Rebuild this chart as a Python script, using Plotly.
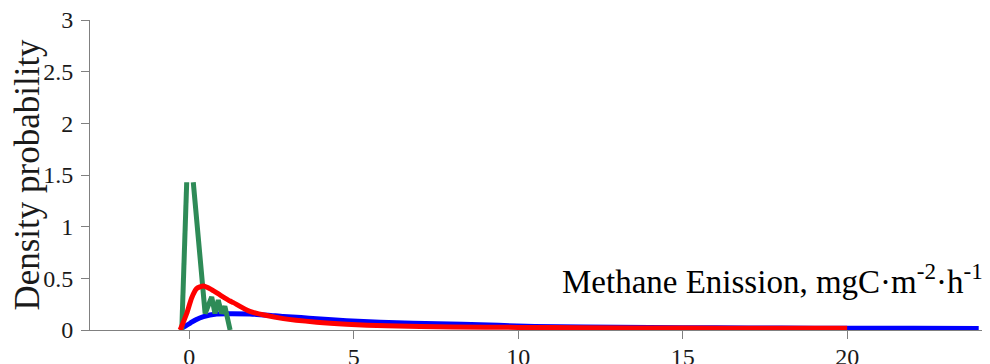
import plotly.graph_objects as go

# Blue series
blue_x = [-0.28, 0.02, 0.2, 0.43, 0.83, 1.3, 1.84, 2.4, 2.86, 3.4, 3.87, 4.78, 5.8, 6.8, 8.3, 9.4, 10.5, 12, 14, 16, 18, 20, 22, 24]
blue_y = [0.01, 0.065, 0.10, 0.13, 0.155, 0.157, 0.155, 0.143, 0.13, 0.12, 0.11, 0.09, 0.075, 0.065, 0.055, 0.045, 0.035, 0.028, 0.024, 0.021, 0.019, 0.017, 0.016, 0.015]

# Green series
green_x = [-0.23, -0.08, None, 0.12, 0.48, 0.68, 0.78, 0.88, 0.98, 1.08, 1.24]
green_y = [0.0, 1.43, None, 1.43, 0.16, 0.32, 0.16, 0.29, 0.16, 0.23, 0.0]

# Red series
red_x = [-0.28, -0.08, 0.07, 0.22, 0.43, 0.68, 0.93, 1.24, 1.34, 1.84, 2.86, 3.87, 4.78, 6, 8, 10, 12, 15, 18, 20]
red_y = [0.0, 0.16, 0.31, 0.40, 0.426, 0.39, 0.34, 0.28, 0.265, 0.18, 0.11, 0.075, 0.055, 0.04, 0.03, 0.025, 0.022, 0.019, 0.017, 0.016]

x_ticks = [0, 5, 10, 15, 20]
y_ticks = [0, 0.5, 1, 1.5, 2, 2.5, 3]
y_tick_labels = ["0", "0.5", "1", "1.5", "2", "2.5", "3"]

FONT = "Liberation Serif"

fig = go.Figure()
fig.add_trace(go.Scatter(x=blue_x, y=blue_y, mode="lines", line=dict(color="#0000FF", width=5, shape="spline", smoothing=0.6), showlegend=False))
fig.add_trace(go.Scatter(x=green_x, y=green_y, mode="lines", line=dict(color="#2E8B57", width=5), connectgaps=False, showlegend=False))
fig.add_trace(go.Scatter(x=red_x, y=red_y, mode="lines", line=dict(color="#FF0000", width=5, shape="spline", smoothing=0.6), showlegend=False))

fig.update_layout(
    width=982, height=356,
    margin=dict(l=82, r=8, t=12, b=34),
    paper_bgcolor="white", plot_bgcolor="white",
    font=dict(family=FONT, color="#1a1a1a"),
    xaxis=dict(
        range=[-3.02, 24.1], tickvals=x_ticks, ticks="outside", ticklen=8, tickwidth=1, tickcolor="#808080",
        showline=True, linecolor="#808080", linewidth=1, showgrid=False, zeroline=False,
        automargin=False, ticklabeloverflow="allow", ticklabelstandoff=-3,
        tickfont=dict(family=FONT, size=24, color="#1a1a1a"),
    ),
    yaxis=dict(
        range=[0, 3], tickvals=y_ticks, ticktext=y_tick_labels, ticks="outside", ticklen=8, tickwidth=1, tickcolor="#808080",
        showline=True, linecolor="#808080", linewidth=1, showgrid=False, zeroline=False,
        automargin=False, ticklabeloverflow="allow", ticklabelstandoff=3,
        tickfont=dict(family=FONT, size=24, color="#1a1a1a"),
        title=dict(text="Density probability", font=dict(family=FONT, size=35, color="#1a1a1a"), standoff=4),
    ),
    annotations=[dict(
        text="Methane Enission, mgC·m<sup>-2</sup>·h<sup>-1</sup>",
        xref="paper", yref="paper", x=1.003, y=0.09, xanchor="right", yanchor="bottom",
        showarrow=False, font=dict(family=FONT, size=33, color="#000000"),
    )],
)

fig.write_html("out.html")
